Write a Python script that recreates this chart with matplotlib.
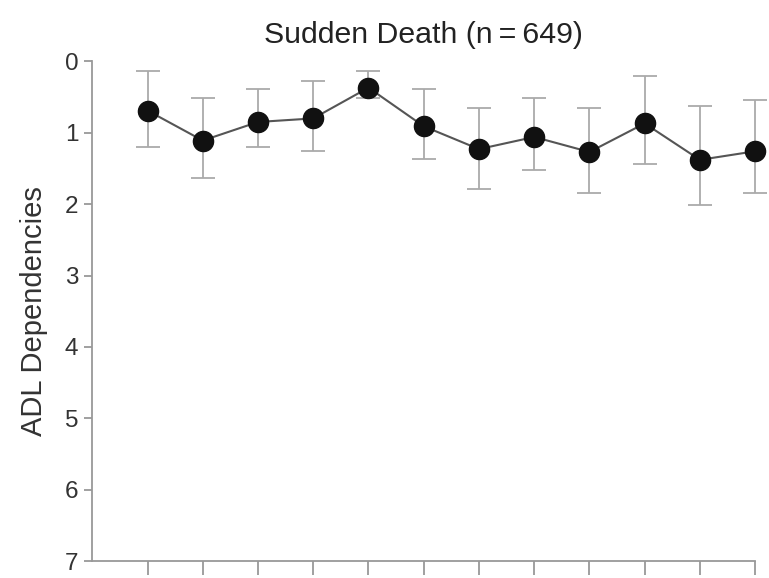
import numpy as np
import matplotlib
matplotlib.use('Agg')
import matplotlib.pyplot as plt

plt.rcParams['font.family'] = ['Liberation Sans', 'DejaVu Sans']

# data (ADL dependencies, y axis inverted)
visits = np.arange(1, 13)
mean_adl = [0.69, 1.11, 0.85, 0.80, 0.37, 0.91, 1.23, 1.06, 1.27, 0.87, 1.38, 1.26]
upper_bound = [0.13, 0.51, 0.39, 0.27, 0.13, 0.39, 0.66, 0.52, 0.66, 0.20, 0.62, 0.54]
lower_bound = [1.20, 1.63, 1.20, 1.25, 0.52, 1.37, 1.79, 1.52, 1.85, 1.44, 2.01, 1.85]
y_ticks = [0, 1, 2, 3, 4, 5, 6, 7]

mean_adl = np.array(mean_adl)
err_top = mean_adl - np.array(upper_bound)
err_bot = np.array(lower_bound) - mean_adl

fig = plt.figure(figsize=(7.69, 5.78), dpi=100)
ax = fig.add_axes([0.12, 0.029, 0.862, 0.865])

eb = ax.errorbar(visits, mean_adl, yerr=[err_top, err_bot], fmt='none',
                 ecolor='#aaaaaa', elinewidth=1.3, capsize=8.5, capthick=1.3, zorder=1)
for part in eb.lines[1] + eb.lines[2]:
    part.set_clip_on(False)
ax.plot(visits, mean_adl, color='#555555', linewidth=1.5, zorder=2, clip_on=False)
ax.plot(visits, mean_adl, 'o', color='#111111', markersize=14.5, zorder=3, clip_on=False)

ax.set_xlim(0, 12)
ax.set_ylim(7, 0)
ax.set_xticks(visits)
ax.set_xticklabels([])
ax.set_yticks(y_ticks)

for side in ['top', 'right']:
    ax.spines[side].set_visible(False)
for side in ['left', 'bottom']:
    ax.spines[side].set_color('#999999')
    ax.spines[side].set_linewidth(1.3)

ax.tick_params(axis='y', colors='#999999', labelcolor='#333333', labelsize=17.5,
               length=6, width=1.3, pad=4)
ax.tick_params(axis='x', colors='#999999', length=10, width=1.3)

ax.set_ylabel('ADL Dependencies', fontsize=21, color='#333333', labelpad=12)
ax.set_title('Sudden Death (n\u2009=\u2009649)', fontsize=21.8, color='#222222', pad=13)

fig.savefig('out.png', dpi=100)
